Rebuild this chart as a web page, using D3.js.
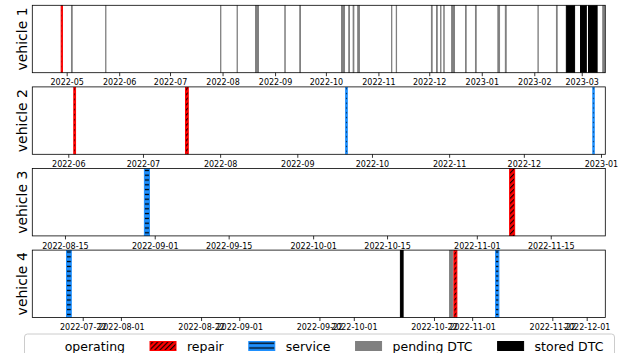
<!DOCTYPE html>
<html>
<head>
<meta charset="utf-8">
<script src="https://cdn.jsdelivr.net/npm/d3@7"></script>
<style>
  html, body { margin: 0; padding: 0; background: #fff; }
  svg { display: block; font-family: "DejaVu Sans", sans-serif; }
</style>
</head>
<body>
<div id="chart"></div>
<script>
// ---- data ----------------------------------------------------------------
const vehicleNames = ["vehicle 1", "vehicle 2", "vehicle 3", "vehicle 4"];
const stateNames = ["operating", "repair", "service", "pending DTC", "stored DTC"];

// visible time window of each vehicle's timeline
const vehicle1Window = ["2022-04-10T17:00", "2023-03-14T22:00"];
const vehicle2Window = ["2022-05-17T13:00", "2023-01-02T17:30"];
const vehicle3Window = ["2022-08-08T19:30", "2022-11-25T08:00"];
const vehicle4Window = ["2022-07-08T19:00", "2022-12-05T21:00"];

// [start, end, state]
const vehicle1Events = [
  ["2022-04-27T18:00", "2022-04-28T12:00", "repair"],
  ["2022-05-03T20:00", "2022-05-04T06:00", "pending DTC"],
  ["2022-05-24T00:00", "2022-05-24T04:00", "pending DTC"],
  ["2022-07-30T20:00", "2022-07-31T00:00", "pending DTC"],
  ["2022-08-09T14:00", "2022-08-09T18:00", "pending DTC"],
  ["2022-08-20T11:00", "2022-08-22T05:00", "pending DTC"],
  ["2022-09-06T18:00", "2022-09-06T23:50", "pending DTC"],
  ["2022-09-15T14:00", "2022-09-16T00:00", "pending DTC"],
  ["2022-10-10T05:00", "2022-10-12T00:00", "pending DTC"],
  ["2022-10-14T12:00", "2022-10-14T22:00", "pending DTC"],
  ["2022-10-17T02:00", "2022-10-17T12:00", "pending DTC"],
  ["2022-10-19T19:00", "2022-10-20T19:00", "pending DTC"],
  ["2022-11-08T18:00", "2022-11-08T22:00", "pending DTC"],
  ["2022-11-11T13:00", "2022-11-11T17:00", "pending DTC"],
  ["2022-12-02T07:00", "2022-12-02T17:00", "pending DTC"],
  ["2022-12-05T07:00", "2022-12-05T17:00", "pending DTC"],
  ["2022-12-07T17:00", "2022-12-07T22:00", "pending DTC"],
  ["2022-12-09T14:00", "2022-12-09T20:00", "pending DTC"],
  ["2022-12-14T05:00", "2022-12-15T22:00", "pending DTC"],
  ["2022-12-22T10:00", "2022-12-22T19:00", "pending DTC"],
  ["2022-12-28T07:00", "2022-12-28T17:00", "pending DTC"],
  ["2023-01-10T12:00", "2023-01-11T12:00", "pending DTC"],
  ["2023-01-14T22:00", "2023-01-15T10:00", "pending DTC"],
  ["2023-02-03T04:00", "2023-02-03T08:00", "pending DTC"],
  ["2023-02-14T02:00", "2023-02-14T12:00", "pending DTC"],
  ["2023-02-19T22:00", "2023-02-24T19:00", "stored DTC"],
  ["2023-02-28T07:00", "2023-03-03T17:00", "stored DTC"],
  ["2023-03-05T00:00", "2023-03-10T02:00", "stored DTC"],
  ["2023-03-13T10:00", "2023-03-14T10:00", "pending DTC"]
];
const vehicle2Events = [
  ["2022-06-03T05:00", "2022-06-03T22:00", "repair"],
  ["2022-07-18T02:00", "2022-07-19T05:00", "repair"],
  ["2022-09-20T10:00", "2022-09-21T02:00", "service"],
  ["2022-12-28T17:00", "2022-12-29T07:00", "service"]
];
const vehicle3Events = [
  ["2022-08-30T01:00", "2022-08-31T00:00", "service"],
  ["2022-11-07T05:00", "2022-11-08T04:00", "repair"]
];
const vehicle4Events = [
  ["2022-07-17T18:00", "2022-07-19T00:00", "service"],
  ["2022-10-13T05:00", "2022-10-13T22:00", "stored DTC"],
  ["2022-10-26T02:00", "2022-10-26T22:00", "pending DTC"],
  ["2022-10-27T05:00", "2022-10-28T00:00", "repair"],
  ["2022-11-07T03:00", "2022-11-08T00:00", "service"]
];

// tick labels along each timeline
const vehicle1Ticks = ["2022-05", "2022-06", "2022-07", "2022-08", "2022-09", "2022-10",
                       "2022-11", "2022-12", "2023-01", "2023-02", "2023-03"];
const vehicle2Ticks = ["2022-06", "2022-07", "2022-08", "2022-09", "2022-10",
                       "2022-11", "2022-12", "2023-01"];
const vehicle3Ticks = ["2022-08-15", "2022-09-01", "2022-09-15", "2022-10-01",
                       "2022-10-15", "2022-11-01", "2022-11-15"];
const vehicle4Ticks = ["2022-07-22", "2022-08-01", "2022-08-22", "2022-09-01", "2022-09-22",
                       "2022-10-01", "2022-10-22", "2022-11-01", "2022-11-22", "2022-12-01"];

// ---- appearance ----------------------------------------------------------
const W = 622, H = 353;
const plotLeft = 32.3, plotRight = 605.3;
const panelTop0 = 5.3, panelStep = 81.6, panelHeight = 67.4;

const stateStyle = {
  "operating":   { fill: "#ffffff", stroke: "none" },
  "repair":      { fill: "url(#hatch-repair)", stroke: "#ff0000" },
  "service":     { fill: "url(#hatch-service)", stroke: "#1e90ff" },
  "pending DTC": { fill: "#808080", stroke: "#808080" },
  "stored DTC":  { fill: "#000000", stroke: "#000000" }
};

const panels = [
  { events: vehicle1Events, window: vehicle1Window, ticks: vehicle1Ticks, fmt: "%Y-%m" },
  { events: vehicle2Events, window: vehicle2Window, ticks: vehicle2Ticks, fmt: "%Y-%m" },
  { events: vehicle3Events, window: vehicle3Window, ticks: vehicle3Ticks, fmt: "%Y-%m-%d" },
  { events: vehicle4Events, window: vehicle4Window, ticks: vehicle4Ticks, fmt: "%Y-%m-%d" }
];

const parseTime = d3.utcParse("%Y-%m-%dT%H:%M");

const svg = d3.select("#chart").append("svg")
  .attr("width", W).attr("height", H)
  .attr("viewBox", `0 0 ${W} ${H}`);

const defs = svg.append("defs");

// red with black "/" hatching
const pr = defs.append("pattern")
  .attr("id", "hatch-repair")
  .attr("patternUnits", "userSpaceOnUse")
  .attr("width", 3.6).attr("height", 3.6)
  .attr("patternTransform", "rotate(45)");
pr.append("rect").attr("width", 3.6).attr("height", 3.6).attr("fill", "#ff0000");
pr.append("line").attr("x1", 0.6).attr("y1", 0).attr("x2", 0.6).attr("y2", 3.6)
  .attr("stroke", "#000").attr("stroke-width", 1.1);

// blue with black horizontal hatching
const ps = defs.append("pattern")
  .attr("id", "hatch-service")
  .attr("patternUnits", "userSpaceOnUse")
  .attr("width", 8).attr("height", 4.8);
ps.append("rect").attr("width", 8).attr("height", 4.8).attr("fill", "#1e90ff");
ps.append("line").attr("x1", 0).attr("y1", 2.4).attr("x2", 8).attr("y2", 2.4)
  .attr("stroke", "#000").attr("stroke-width", 1.3);

panels.forEach((p, i) => {
  const top = panelTop0 + i * panelStep;
  const bottom = top + panelHeight;

  const x = d3.scaleUtc()
    .domain(p.window.map(parseTime))
    .range([plotLeft, plotRight]);

  const clipId = "clip-" + i;
  defs.append("clipPath").attr("id", clipId)
    .append("rect")
    .attr("x", plotLeft).attr("y", top)
    .attr("width", plotRight - plotLeft).attr("height", panelHeight);

  const g = svg.append("g").attr("class", "panel");

  g.append("rect")
    .attr("x", plotLeft).attr("y", top)
    .attr("width", plotRight - plotLeft).attr("height", panelHeight)
    .attr("fill", "#fff");

  g.append("g").attr("clip-path", `url(#${clipId})`)
    .selectAll("rect")
    .data(p.events)
    .join("rect")
      .attr("x", d => x(parseTime(d[0])))
      .attr("width", d => Math.max(0, x(parseTime(d[1])) - x(parseTime(d[0]))))
      .attr("y", top - 1)
      .attr("height", panelHeight + 2)
      .attr("fill", d => stateStyle[d[2]].fill)
      .attr("stroke", d => stateStyle[d[2]].stroke)
      .attr("stroke-width", 1);

  // x axis with date ticks
  const tickParse = d3.utcParse(p.fmt);
  const axis = d3.axisBottom(x)
    .tickValues(p.ticks.map(tickParse))
    .tickFormat(d3.utcFormat(p.fmt))
    .tickSize(3.5)
    .tickPadding(3.5);
  const ax = g.append("g")
    .attr("transform", `translate(0,${bottom})`)
    .call(axis);
  ax.select(".domain").remove();
  ax.selectAll(".tick line").attr("stroke", "#000").attr("stroke-width", 0.8);
  ax.selectAll(".tick text")
    .attr("fill", "#000")
    .style("font-family", "DejaVu Sans")
    .style("font-size", "8px");

  // frame
  g.append("rect")
    .attr("x", plotLeft).attr("y", top)
    .attr("width", plotRight - plotLeft).attr("height", panelHeight)
    .attr("fill", "none")
    .attr("stroke", "#000")
    .attr("stroke-width", 0.8);

  // y label
  g.append("text")
    .attr("transform", `translate(26.5,${top + panelHeight / 2}) rotate(-90)`)
    .attr("text-anchor", "middle")
    .style("font-size", "14px")
    .attr("fill", "#000")
    .text(vehicleNames[i]);
});

// ---- legend --------------------------------------------------------------
const legend = svg.append("g").attr("class", "legend");
legend.append("rect")
  .attr("x", 24.5).attr("y", 334)
  .attr("width", 590).attr("height", 34)
  .attr("rx", 3).attr("ry", 3)
  .attr("fill", "#fff")
  .attr("fill-opacity", 0.8)
  .attr("stroke", "#cccccc")
  .attr("stroke-width", 1);

let cursor = 27.7;
stateNames.forEach(name => {
  const st = stateStyle[name];
  legend.append("rect")
    .attr("x", cursor).attr("y", 341.5)
    .attr("width", 26).attr("height", 9)
    .attr("fill", st.fill)
    .attr("stroke", st.stroke)
    .attr("stroke-width", 1);
  const t = legend.append("text")
    .attr("x", cursor + 37).attr("y", 350.5)
    .style("font-size", "12.5px")
    .attr("fill", "#000")
    .text(name);
  const w = t.node().getComputedTextLength();
  cursor = cursor + 37 + w + 25;
});
</script>
</body>
</html>
